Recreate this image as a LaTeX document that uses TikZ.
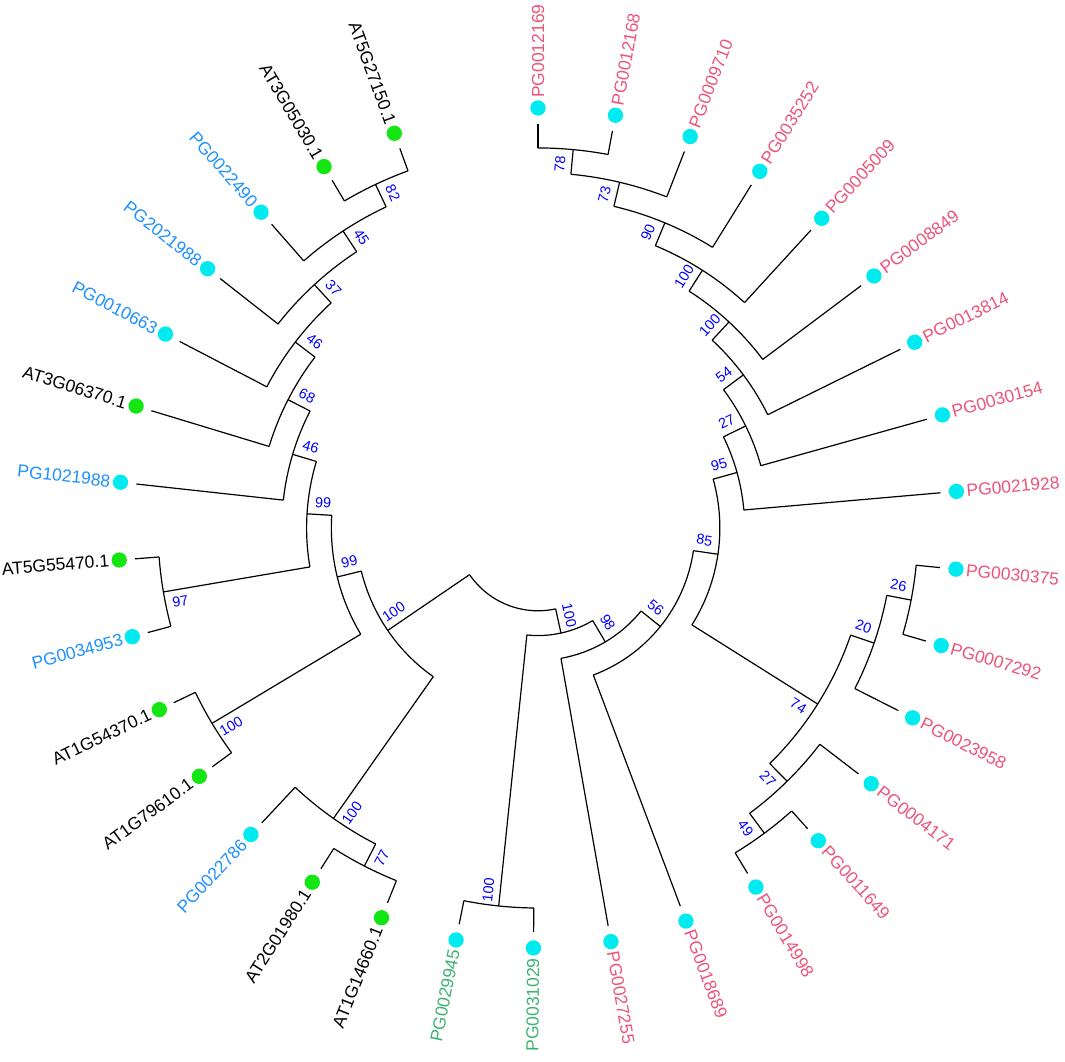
\documentclass[tikz,border=0pt]{standalone}
\usepackage{fontspec}
\setmainfont{Liberation Sans}
\usepackage{tikz}
\usetikzlibrary{positioning, calc}

\definecolor{pgpink}{RGB}{236,84,122}
\definecolor{pgblue}{RGB}{30,144,255}
\definecolor{pgteal}{RGB}{60,179,113}
\definecolor{dotcyan}{RGB}{0,235,240}
\definecolor{dotgreen}{RGB}{20,230,20}
\definecolor{bsblue}{RGB}{0,0,255}

\begin{document}
\begin{tikzpicture}[
        x=0.75pt, y=0.75pt,
        branch/.style={
          draw, line width=0.9pt, line join=miter
        },
        leafdot/.style={
          circle, inner sep=0pt, minimum size=11.5pt
        },
        leaf/.style={
          inner sep=0pt, font=\fontsize{13.1}{15}\selectfont
        },
        boot/.style={
          inner sep=0pt, text=bsblue, font=\fontsize{10.8}{12}\selectfont
        },
      ]
        \useasboundingbox (-538,-534) rectangle (527,528);

        % leaves
        \foreach \i/\nm/\tc/\dc/\p in {
            0/PG0012169/pgpink/dotcyan/1, 1/PG0012168/pgpink/dotcyan/1,
            2/PG0009710/pgpink/dotcyan/2, 3/PG0035252/pgpink/dotcyan/3,
            4/PG0005009/pgpink/dotcyan/4, 5/PG0008849/pgpink/dotcyan/5,
            6/PG0013814/pgpink/dotcyan/6, 7/PG0030154/pgpink/dotcyan/7,
            8/PG0021928/pgpink/dotcyan/8, 9/PG0030375/pgpink/dotcyan/1,
            10/PG0007292/pgpink/dotcyan/1, 11/PG0023958/pgpink/dotcyan/2,
            12/PG0004171/pgpink/dotcyan/2, 13/PG0011649/pgpink/dotcyan/1,
            14/PG0014998/pgpink/dotcyan/1, 15/PG0018689/pgpink/dotcyan/10,
            16/PG0027255/pgpink/dotcyan/11, 17/PG0031029/pgteal/dotcyan/1,
            18/PG0029945/pgteal/dotcyan/1, 19/AT1G14660.1/black/dotgreen/1,
            20/AT2G01980.1/black/dotgreen/1, 21/PG0022786/pgblue/dotcyan/2,
            22/AT1G79610.1/black/dotgreen/1, 23/AT1G54370.1/black/dotgreen/1,
            24/PG0034953/pgblue/dotcyan/1, 25/AT5G55470.1/black/dotgreen/1,
            26/PG1021988/pgblue/dotcyan/6, 27/AT3G06370.1/black/dotgreen/5,
            28/PG0010663/pgblue/dotcyan/4, 29/PG2021988/pgblue/dotcyan/3,
            30/PG0022490/pgblue/dotcyan/2, 31/AT3G05030.1/black/dotgreen/1,
            32/AT5G27150.1/black/dotgreen/1} {
          \pgfmathsetmacro\ang{90-10.625*\i}
          \pgfmathsetmacro\rot{cos(\ang)>=0 ? \ang : \ang+180}
          \pgfmathtruncatemacro\side{cos(\ang)>=0 ? 1 : 0}
          \ifnum\side=1 \def\anc{west}\else\def\anc{east}\fi
          \coordinate (b\i) at (\ang:{404.8-24.77*\p});
          \coordinate (e\i) at (\ang:404);
          \draw [branch] (b\i) -- (e\i);
          \node [leafdot, fill=\dc] (d\i) at (\ang:420) {};
          \node [leaf, text=\tc, rotate=\rot, anchor=\anc] (t\i) at (\ang:430) {\nm};
        }

        % clades: name/angle/level/parent level/arc from/arc to/bootstrap/side
        \foreach \nm/\ang/\l/\p/\fa/\fb/\bs/\sg in {
            n78/84.6875/1/2/90/79.375/78/1,
            n73/76.71875/2/3/84.6875/68.75/73/1,
            n90/67.421875/3/4/76.71875/58.125/90/1,
            n100c/57.4609/4/5/67.421875/47.5/100/1,
            n100d/47.168/5/6/57.4609/36.875/100/1,
            n54/36.709/6/7/47.168/26.25/54/1,
            n27a/26.167/7/8/36.709/15.625/27/1,
            n95/15.584/8/9/26.167/5/95/1,
            n26/-10.9375/1/2/-5.625/-16.25/26/1,
            n20/-18.906/2/3/-10.9375/-26.875/20/1,
            n49/-53.4375/1/2/-48.125/-58.75/49/-1,
            n27b/-45.469/2/3/-37.5/-53.4375/27/-1,
            n74/-32.1875/3/9/-18.906/-45.469/74/-1,
            n85/-8.302/9/10/15.584/-32.1875/85/1,
            n56/-38.839/10/11/-8.302/-69.375/56/1,
            n98/-59.419/11/12/-38.839/-80/98/1,
            n100e/-95.9375/1/12/-90.625/-101.25/100/-1,
            n100x/-77.678/12/13/-59.419/-95.9375/100/1,
            n77/-117.1875/1/2/-111.875/-122.5/77/1,
            n100f/-125.156/2/9/-117.1875/-133.125/100/1,
            n100a/-149.0625/1/8/-143.75/-154.375/100/1,
            n97/-170.3125/1/7/-165/-175.625/97/1,
            n82/-244.6875/1/2/-239.375/-250/82/-1,
            n45/-236.719/2/3/-244.6875/-228.75/45/-1,
            n37/-227.422/3/4/-236.719/-218.125/37/-1,
            n46a/-217.461/4/5/-227.422/-207.5/46/-1,
            n68/-207.168/5/6/-217.461/-196.875/68/-1,
            n46b/-196.709/6/7/-207.168/-186.25/46/-1,
            n99a/-183.511/7/8/-196.709/-170.3125/99/-1,
            n99b/-166.287/8/9/-183.511/-149.0625/99/-1,
            n100b/-145.721/9/13/-166.287/-125.156/100/-1} {
          \pgfmathsetmacro\rr{404.8-24.77*\l}
          \pgfmathsetmacro\rp{404.8-24.77*\p}
          \coordinate (\nm) at (\ang:\rr);
          \coordinate (\nm-in) at (\ang:\rp);
          \coordinate (\nm-a) at (\fa:\rr);
          \draw [branch] (\nm-in) -- (\nm);
          \draw [branch] (\nm-a) arc [start angle=\fa, end angle=\fb, radius=\rr];
          % bootstrap
          \pgfmathsetmacro\rb{\rr-15}
          \pgfmathsetmacro\ab{\ang+\sg*687.6/\rb}
          \pgfmathsetmacro\rot{cos(\ang)>=0 ? \ang : \ang+180}
          \node [boot, rotate=\rot] (\nm-bs) at (\ab:\rb) {\bs};
        }

        % root
        \coordinate (root-a) at (-145.721:82.79);
        \draw [branch] (root-a) arc [start angle=-145.721, end angle=-77.678, radius=82.79];

      \end{tikzpicture}
\end{document}
